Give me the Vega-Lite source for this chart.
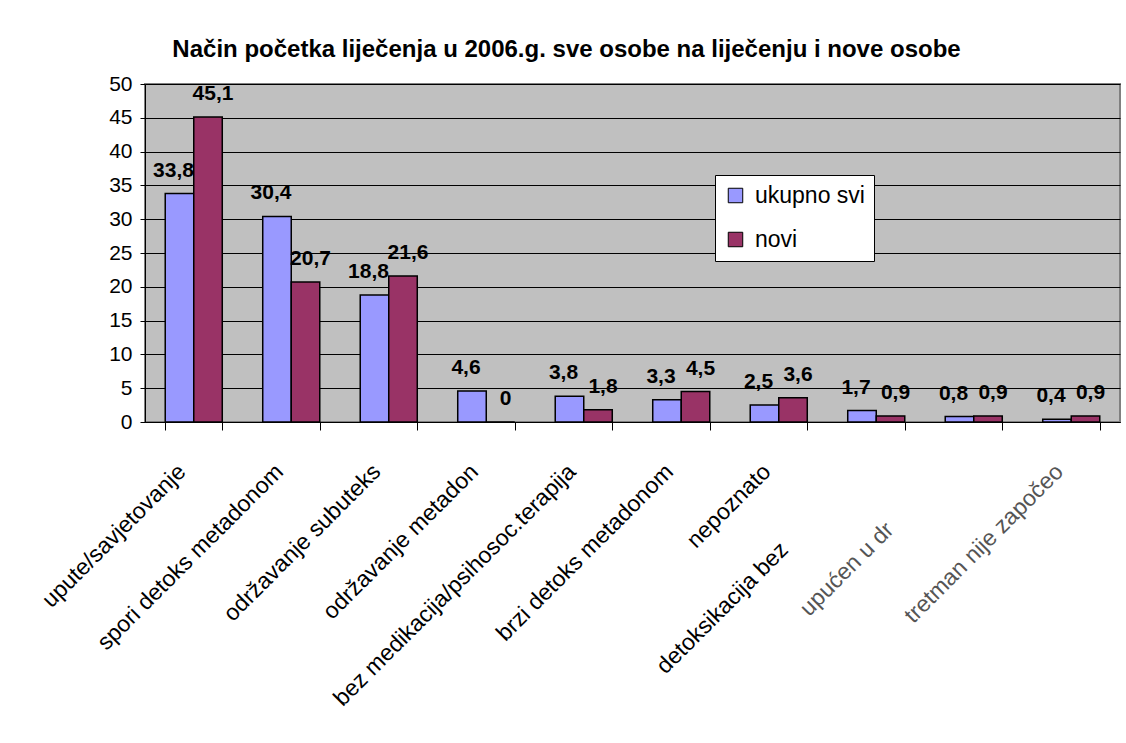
{
  "$schema": "https://vega.github.io/schema/vega-lite/v6.json",
  "width": 975,
  "height": 338,
  "autosize": {"type": "none"},
  "padding": {"left": 145, "top": 84, "right": 6, "bottom": 321},
  "background": "white",
  "title": {
    "text": "Način početka liječenja u 2006.g. sve osobe na liječenju i nove osobe",
    "font": "Liberation Sans",
    "fontSize": 24,
    "fontWeight": "bold",
    "color": "black",
    "anchor": "middle",
    "dx": -66,
    "offset": 11
  },
  "config": {
    "locale": {"number": {"decimal": ",", "thousands": ".", "grouping": [3], "currency": ["", " kn"]}},
    "view": {"fill": "#C0C0C0", "stroke": "#808080", "strokeWidth": 2},
    "font": "Liberation Sans"
  },
  "data": {
    "values": [
      {"kategorija": "upute/savjetovanje", "serija": "ukupno svi", "vrijednost": 33.8},
      {"kategorija": "upute/savjetovanje", "serija": "novi", "vrijednost": 45.1},
      {"kategorija": "spori detoks metadonom", "serija": "ukupno svi", "vrijednost": 30.4},
      {"kategorija": "spori detoks metadonom", "serija": "novi", "vrijednost": 20.7},
      {"kategorija": "održavanje subuteks", "serija": "ukupno svi", "vrijednost": 18.8},
      {"kategorija": "održavanje subuteks", "serija": "novi", "vrijednost": 21.6},
      {"kategorija": "održavanje metadon", "serija": "ukupno svi", "vrijednost": 4.6},
      {"kategorija": "održavanje metadon", "serija": "novi", "vrijednost": 0},
      {"kategorija": "bez medikacija/psihosoc.terapija", "serija": "ukupno svi", "vrijednost": 3.8},
      {"kategorija": "bez medikacija/psihosoc.terapija", "serija": "novi", "vrijednost": 1.8},
      {"kategorija": "brzi detoks metadonom", "serija": "ukupno svi", "vrijednost": 3.3},
      {"kategorija": "brzi detoks metadonom", "serija": "novi", "vrijednost": 4.5},
      {"kategorija": "nepoznato", "serija": "ukupno svi", "vrijednost": 2.5},
      {"kategorija": "nepoznato", "serija": "novi", "vrijednost": 3.6},
      {"kategorija": "detoksikacija bez", "serija": "ukupno svi", "vrijednost": 1.7},
      {"kategorija": "detoksikacija bez", "serija": "novi", "vrijednost": 0.9},
      {"kategorija": "upućen u dr", "serija": "ukupno svi", "vrijednost": 0.8},
      {"kategorija": "upućen u dr", "serija": "novi", "vrijednost": 0.9},
      {"kategorija": "tretman nije započeo", "serija": "ukupno svi", "vrijednost": 0.4},
      {"kategorija": "tretman nije započeo", "serija": "novi", "vrijednost": 0.9}
    ]
  },
  "encoding": {
    "x": {
      "field": "kategorija",
      "type": "nominal",
      "sort": null,
      "scale": {"paddingInner": 0.415, "paddingOuter": 0.2075},
      "axis": {
        "title": null,
        "labelAngle": -45,
        "labelFontSize": 23,
        "labelColor": {"condition": {"test": "datum.value == 'upućen u dr' || datum.value == 'tretman nije započeo'", "value": "#555555"}, "value": "black"},
        "labelLimit": 450,
        "tickBand": "extent",
        "tickSize": 8,
        "tickColor": "black",
        "domainColor": "black",
        "labelOffset": {"condition": [
          {"test": "datum.value == 'detoksikacija bez'", "value": -100},
          {"test": "datum.value == 'upućen u dr'", "value": -92}
        ], "value": -20},
        "labelPadding": {"condition": [
          {"test": "datum.value == 'detoksikacija bez'", "value": 108},
          {"test": "datum.value == 'upućen u dr'", "value": 88}
        ], "value": 30}
      }
    },
    "xOffset": {"field": "serija", "type": "nominal", "sort": ["ukupno svi", "novi"]},
    "y": {
      "field": "vrijednost",
      "type": "quantitative",
      "scale": {"domain": [0, 50], "nice": false},
      "axis": {
        "title": null,
        "values": [0, 5, 10, 15, 20, 25, 30, 35, 40, 45, 50],
        "grid": true,
        "gridColor": "black",
        "gridWidth": 1,
        "tickSize": 5,
        "tickColor": "black",
        "labelFontSize": 21,
        "labelColor": "black",
        "labelPadding": 8,
        "domainColor": "black"
      }
    }
  },
  "layer": [
    {
      "mark": {"type": "bar", "stroke": "black", "strokeWidth": 1.5},
      "encoding": {
        "color": {
          "field": "serija",
          "type": "nominal",
          "scale": {"domain": ["ukupno svi", "novi"], "range": ["#9999FF", "#993366"]},
          "legend": {
            "title": null,
            "orient": "none",
            "legendX": 570,
            "legendY": 91,
            "fillColor": "white",
            "strokeColor": "black",
            "padding": 9,
            "rowPadding": 20,
            "symbolType": "square",
            "symbolSize": 210,
            "symbolStrokeColor": "black",
            "symbolStrokeWidth": 1,
            "labelFontSize": 23,
            "labelColor": "black",
            "labelOffset": 8
          }
        }
      }
    },
    {
      "transform": [{"filter": "datum.serija == 'ukupno svi'"}],
      "mark": {"type": "text", "fontWeight": "bold", "fontSize": 21, "dy": -17, "dx": -6, "baseline": "alphabetic", "color": "black"},
      "encoding": {
        "text": {"field": "vrijednost", "type": "quantitative", "format": ".1~f"}
      }
    },
    {
      "transform": [{"filter": "datum.serija == 'novi'"}],
      "mark": {"type": "text", "fontWeight": "bold", "fontSize": 21, "dy": -17, "dx": 5, "baseline": "alphabetic", "color": "black"},
      "encoding": {
        "text": {"field": "vrijednost", "type": "quantitative", "format": ".1~f"}
      }
    }
  ]
}
